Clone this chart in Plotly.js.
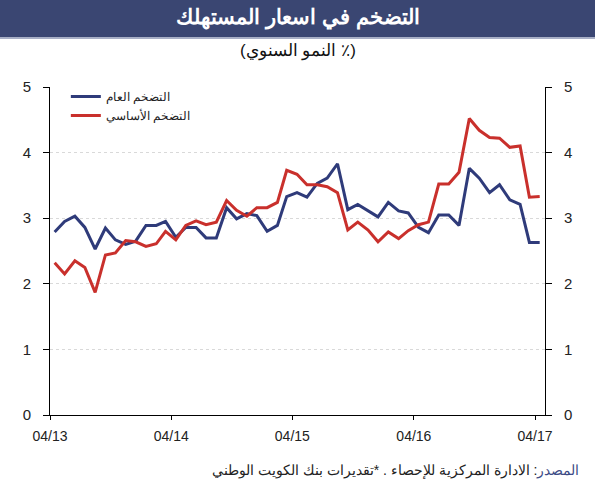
<!DOCTYPE html>
<html>
<head>
<meta charset="utf-8">
<script src="https://cdn.plot.ly/plotly-3.0.1.min.js"></script>
<style>html,body{margin:0;padding:0;background:#fff;}#chart{width:595px;height:500px;}</style>
</head>
<body>
<div id="chart"></div>
<script>
// Monthly observations, Apr 2013 – Apr 2017
const months = [
  '2013-04','2013-05','2013-06','2013-07','2013-08','2013-09','2013-10','2013-11','2013-12',
  '2014-01','2014-02','2014-03','2014-04','2014-05','2014-06','2014-07','2014-08','2014-09','2014-10','2014-11','2014-12',
  '2015-01','2015-02','2015-03','2015-04','2015-05','2015-06','2015-07','2015-08','2015-09','2015-10','2015-11','2015-12',
  '2016-01','2016-02','2016-03','2016-04','2016-05','2016-06','2016-07','2016-08','2016-09','2016-10','2016-11','2016-12',
  '2017-01','2017-02','2017-03','2017-04'
];
const headline = [
  2.79,2.95,3.03,2.86,2.53,2.85,2.67,2.60,2.65,
  2.89,2.89,2.95,2.71,2.86,2.86,2.70,2.70,3.16,2.99,3.07,3.04,
  2.80,2.89,3.33,3.39,3.32,3.53,3.61,3.83,3.13,3.21,3.12,3.02,
  3.24,3.11,3.08,2.86,2.78,3.05,3.05,2.89,3.76,3.61,3.39,3.51,
  3.28,3.21,2.63,2.63
];
const core = [
  2.32,2.15,2.35,2.25,1.87,2.44,2.47,2.66,2.64,
  2.57,2.61,2.80,2.67,2.89,2.96,2.90,2.94,3.27,3.12,3.03,3.16,
  3.16,3.24,3.73,3.67,3.51,3.51,3.48,3.39,2.82,2.94,2.82,2.64,
  2.79,2.69,2.81,2.90,2.94,3.52,3.52,3.70,4.52,4.34,4.23,4.22,
  4.08,4.10,3.32,3.33
];
const seriesNames = ['التضخم العام', 'التضخم الأساسي'];
const tickDates = ['2013-04-01','2014-04-01','2015-04-01','2016-04-01','2017-04-01'];
const tickLabels = ['04/13','04/14','04/15','04/16','04/17'];
const yTicks = [0,1,2,3,4,5];

const xDates = months.map(m => m + '-15');

const FONT = 'Liberation Sans, Arial, sans-serif';
const NAVY = '#2f3b7a';
const RED = '#c9302c';

const traces = [
  {x: xDates, y: headline, name: seriesNames[0], type: 'scatter', mode: 'lines',
   line: {color: NAVY, width: 3}, yaxis: 'y', hoverinfo: 'skip'},
  {x: xDates, y: core, name: seriesNames[1], type: 'scatter', mode: 'lines',
   line: {color: RED, width: 3}, yaxis: 'y2', hoverinfo: 'skip'}
];

const plotTop = 87, plotBottom = 415, plotH = plotBottom - plotTop;
const py = p => (plotBottom - p) / plotH;

const yCommon = {
  range: [0, 5], tickvals: yTicks, ticks: 'outside', ticklen: 6, tickcolor: '#000',
  showline: true, linecolor: '#000', linewidth: 1, zeroline: false, ticklabelstandoff: 9,
  tickfont: {family: FONT, size: 15, color: '#222'}, fixedrange: true
};

const layout = {
  width: 595, height: 500,
  margin: {l: 50, r: 50, t: plotTop, b: 500 - plotBottom},
  paper_bgcolor: '#fff', plot_bgcolor: '#fff',
  font: {family: FONT},
  showlegend: true,
  legend: {x: 0.032, y: 1.015, xanchor: 'left', yanchor: 'top', bgcolor: 'rgba(0,0,0,0)',
           font: {family: FONT, size: 12, color: '#222'}, itemwidth: 30, tracegroupgap: 0},
  xaxis: {
    type: 'date', range: ['2013-04-01', '2017-05-01'],
    tickvals: tickDates, ticktext: tickLabels, ticks: 'outside', ticklen: 4, tickcolor: '#000',
    showline: true, linecolor: '#000', linewidth: 1, showgrid: false, zeroline: false,
    ticklabelstandoff: 4,
    tickfont: {family: FONT, size: 14, color: '#222'}, fixedrange: true
  },
  yaxis: Object.assign({}, yCommon, {side: 'left', showgrid: true, gridcolor: '#d9d9d9', griddash: 'dot', gridwidth: 1}),
  yaxis2: Object.assign({}, yCommon, {side: 'right', overlaying: 'y', showgrid: false}),
  shapes: [
    {type: 'rect', xref: 'paper', yref: 'paper', x0: -50/495, x1: 1 + 50/495, y0: py(37), y1: py(0),
     fillcolor: '#3a4672', line: {width: 0}, layer: 'above'},
    {type: 'line', xref: 'paper', yref: 'paper', x0: -50/495, x1: 1 + 50/495, y0: py(38), y1: py(38),
     line: {color: '#a8afc6', width: 2}, layer: 'above'}
  ],
  annotations: [
    {text: '<b>التضخم في اسعار المستهلك</b>', xref: 'paper', yref: 'paper', x: 0.5, y: py(18),
     xanchor: 'center', yanchor: 'middle', showarrow: false,
     font: {family: FONT, size: 21, color: '#ffffff'}},
    {text: '(النمو السنوي ٪)', xref: 'paper', yref: 'paper', x: 0.5, y: py(51),
     xanchor: 'center', yanchor: 'middle', showarrow: false,
     font: {family: FONT, size: 17, color: '#111'}},
    {text: '<span style="color:#3d4c86">المصدر</span>: الادارة المركزية للإحصاء . *تقديرات بنك الكويت الوطني',
     xref: 'paper', yref: 'paper', x: (581 - 50) / 495, y: py(470),
     xanchor: 'right', yanchor: 'middle', showarrow: false,
     font: {family: FONT, size: 14, color: '#222'}}
  ]
};

Plotly.newPlot('chart', traces, layout, {displayModeBar: false, staticPlot: true});
</script>
</body>
</html>
